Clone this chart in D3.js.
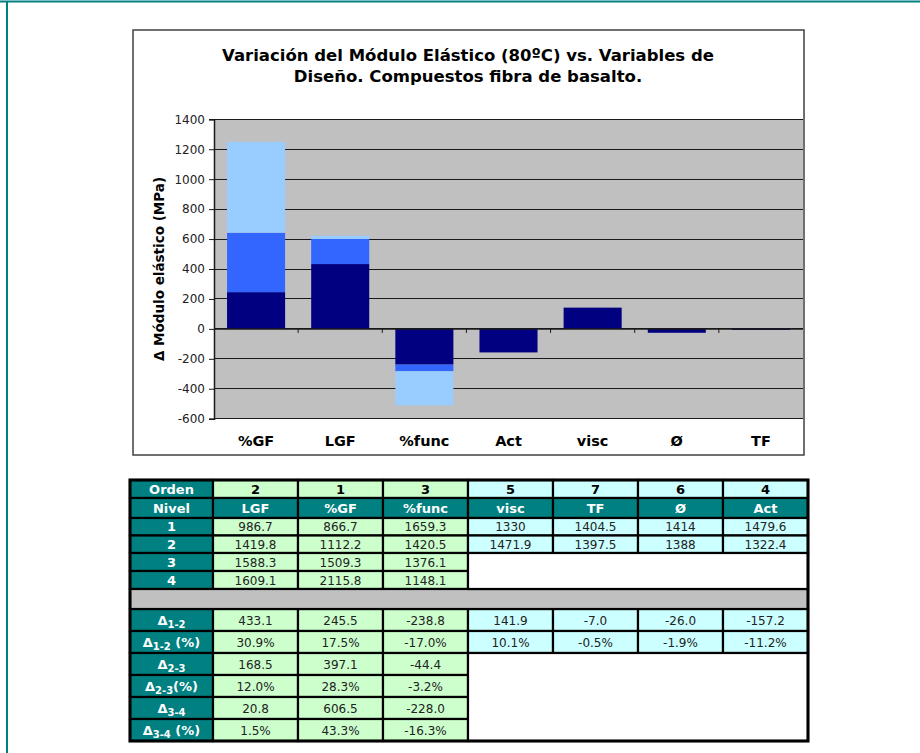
<!DOCTYPE html>
<html><head><meta charset="utf-8">
<script src="https://cdn.jsdelivr.net/npm/d3@7"></script>
<style>body{margin:0;background:#fff;}svg{display:block;font-family:"DejaVu Sans",Verdana,sans-serif;}</style>
</head><body>
<script>
// ---- Chart data ----
const categories = ["%GF","LGF","%func","Act","visc","Ø","TF"];
const delta12 = [245.5, 433.1, -238.8, -157.2, 141.9, -26.0, -7.0];
const delta23 = [397.1, 168.5, -44.4, 0, 0, 0, 0];
const delta34 = [606.5, 20.8, -228.0, 0, 0, 0, 0];
const yTicks = [-600,-400,-200,0,200,400,600,800,1000,1200,1400];
const titleLines = ["Variación del Módulo Elástico (80ºC) vs. Variables de","Diseño. Compuestos fibra de basalto."];
const yTitle = "Δ Módulo elástico (MPa)";

// ---- Table data ----
const tableCols = ["LGF","%GF","%func","visc","TF","Ø","Act"];
const orden = ["2","1","3","5","7","6","4"];
const nivel1 = ["986.7","866.7","1659.3","1330","1404.5","1414","1479.6"];
const nivel2 = ["1419.8","1112.2","1420.5","1471.9","1397.5","1388","1322.4"];
const nivel3 = ["1588.3","1509.3","1376.1"];
const nivel4 = ["1609.1","2115.8","1148.1"];
const d12 = ["433.1","245.5","-238.8","141.9","-7.0","-26.0","-157.2"];
const d12p = ["30.9%","17.5%","-17.0%","10.1%","-0.5%","-1.9%","-11.2%"];
const d23 = ["168.5","397.1","-44.4"];
const d23p = ["12.0%","28.3%","-3.2%"];
const d34 = ["20.8","606.5","-228.0"];
const d34p = ["1.5%","43.3%","-16.3%"];

const W = 920, H = 753;
const svg = d3.select("body").append("svg").attr("width", W).attr("height", H);

// page frame
svg.append("line").attr("x1",0).attr("x2",W).attr("y1",1.5).attr("y2",1.5).attr("stroke","#008080").attr("stroke-width",2);
svg.append("line").attr("x1",7).attr("x2",7).attr("y1",1).attr("y2",H).attr("stroke","#008080").attr("stroke-width",2);

// chart box
svg.append("rect").attr("x",133).attr("y",30).attr("width",671).attr("height",425)
  .attr("fill","#fff").attr("stroke","#404040").attr("stroke-width",1.5);

const plot = {x0:214, x1:803, y0:119.3, y1:418.7};
const x = d3.scaleBand().domain(categories).range([plot.x0, plot.x1]).paddingInner(0.31).paddingOuter(0.155);
const y = d3.scaleLinear().domain([-600,1400]).range([plot.y1, plot.y0]);

// plot background
svg.append("rect").attr("x",plot.x0).attr("y",plot.y0).attr("width",plot.x1-plot.x0).attr("height",plot.y1-plot.y0).attr("fill","#C0C0C0");

// gridlines
svg.append("g").selectAll("line").data(yTicks).join("line")
  .attr("x1",plot.x0).attr("x2",plot.x1).attr("y1",d=>y(d)).attr("y2",d=>y(d))
  .attr("stroke","#1a1a1a").attr("stroke-width",1).attr("shape-rendering","crispEdges");

// stacked bars
const rows = categories.map((c,i)=>({cat:c, a:delta12[i], b:delta23[i], c:delta34[i]}));
const stack = d3.stack().keys(["a","b","c"]).offset(d3.stackOffsetDiverging)(rows);
const colors = {a:"#000080", b:"#3366FF", c:"#99CCFF"};
svg.append("g").selectAll("g").data(stack).join("g").attr("fill",s=>colors[s.key])
  .selectAll("rect").data(s=>s).join("rect")
  .attr("x",d=>x(d.data.cat)).attr("width",x.bandwidth())
  .attr("y",d=>y(Math.max(d[0],d[1]))).attr("height",d=>Math.abs(y(d[0])-y(d[1])));

// y axis
const yAxis = d3.axisLeft(y).tickValues(yTicks).tickSize(5).tickPadding(4).tickFormat(d=>String(d));
const gy = svg.append("g").attr("transform",`translate(${plot.x0},0)`).call(yAxis);
gy.select(".domain").attr("stroke","#1a1a1a").attr("stroke-width",1.5);
gy.selectAll(".tick line").attr("stroke","#1a1a1a");
gy.selectAll(".tick text").attr("font-size",12).attr("fill","#222").attr("font-family","DejaVu Sans");

// x axis at zero
svg.append("line").attr("x1",plot.x0).attr("x2",plot.x1).attr("y1",y(0)).attr("y2",y(0)).attr("stroke","#1a1a1a").attr("stroke-width",1.5);
const step = x.step();
svg.append("g").selectAll("line").data(d3.range(1,categories.length)).join("line")
  .attr("x1",k=>plot.x0+k*step).attr("x2",k=>plot.x0+k*step)
  .attr("y1",y(0)).attr("y2",y(0)+4).attr("stroke","#1a1a1a").attr("stroke-width",1);

// category labels
svg.append("g").selectAll("text").data(categories).join("text")
  .attr("x",d=>x(d)+x.bandwidth()/2).attr("y",446).attr("text-anchor","middle")
  .attr("font-size",14.5).attr("font-weight","bold").attr("fill","#000").text(d=>d);

// title
svg.append("g").selectAll("text").data(titleLines).join("text")
  .attr("x",468).attr("y",(d,i)=>61+i*21).attr("text-anchor","middle")
  .attr("font-size",16.5).attr("font-weight","bold").attr("fill","#000").text(d=>d);

// y title
svg.append("text").attr("transform",`translate(164,${(plot.y0+plot.y1)/2}) rotate(-90)`)
  .attr("text-anchor","middle").attr("font-size",13.5).attr("font-weight","bold").text(yTitle);

// ---- Table ----
const colX = [130,213,298,383,468,553,638,723,808];
const rowY = [480,498,518,535.5,553,571,589,609,631,653,675,697,719,741];
const teal = "#008080", green = "#CCFFCC", cyan = "#CCFFFF";
const tbl = svg.append("g");
const cells = [];
function cell(r,c,txt,fill,color,bold,label){
  cells.push({x:colX[c], w:colX[c+1]-colX[c], y:rowY[r], h:rowY[r+1]-rowY[r], txt, fill, color, bold, label});
}
const colFill = i => i<3 ? green : cyan;
cell(0,0,"Orden",teal,"#fff",true);
orden.forEach((v,i)=>cell(0,i+1,v,colFill(i),"#000",true));
cell(1,0,"Nivel",teal,"#fff",true);
tableCols.forEach((v,i)=>cell(1,i+1,v,teal,"#fff",true));
[nivel1,nivel2,nivel3,nivel4].forEach((arr,r)=>{
  cell(r+2,0,String(r+1),teal,"#fff",true);
  arr.forEach((v,i)=>cell(r+2,i+1,v,colFill(i),"#222",false));
});
const deltaRows = [[d12,"1-2",""],[d12p,"1-2"," (%)"],[d23,"2-3",""],[d23p,"2-3","(%)"],[d34,"3-4",""],[d34p,"3-4"," (%)"]];
deltaRows.forEach(([arr,sub,suf],r)=>{
  cell(r+7,0,null,teal,"#fff",true,{sub,suf});
  arr.forEach((v,i)=>cell(r+7,i+1,v,colFill(i),"#222",false));
});
tbl.selectAll("rect.c").data(cells).join("rect").attr("class","c")
  .attr("x",d=>d.x).attr("y",d=>d.y).attr("width",d=>d.w).attr("height",d=>d.h)
  .attr("fill",d=>d.fill).attr("stroke","#000").attr("stroke-width",2.2);
const blanks = [{x:colX[0],y:rowY[6],w:colX[8]-colX[0],h:rowY[7]-rowY[6],f:"#C0C0C0"},
  {x:colX[4],y:rowY[4],w:colX[8]-colX[4],h:rowY[6]-rowY[4],f:"#fff"},
  {x:colX[4],y:rowY[9],w:colX[8]-colX[4],h:rowY[13]-rowY[9],f:"#fff"}];
tbl.selectAll("rect.b").data(blanks).join("rect").attr("class","b")
  .attr("x",d=>d.x).attr("y",d=>d.y).attr("width",d=>d.w).attr("height",d=>d.h)
  .attr("fill",d=>d.f).attr("stroke","#000").attr("stroke-width",2.2);
tbl.append("rect").attr("x",colX[0]).attr("y",rowY[0]).attr("width",colX[8]-colX[0]).attr("height",rowY[13]-rowY[0])
  .attr("fill","none").attr("stroke","#000").attr("stroke-width",3);

const txt = tbl.selectAll("text").data(cells).join("text")
  .attr("x",d=>d.x+d.w/2).attr("y",d=>d.y+d.h/2+4.5).attr("text-anchor","middle")
  .attr("font-size",d=>d.bold?13:12).attr("font-weight",d=>d.bold?"bold":"normal").attr("fill",d=>d.color);
txt.each(function(d){
  const t = d3.select(this);
  if (d.label){
    t.append("tspan").text("Δ");
    t.append("tspan").attr("font-size",10).attr("dy",3).text(d.label.sub);
    if (d.label.suf) t.append("tspan").attr("dy",-3).text(d.label.suf);
  } else t.text(d.txt);
});
</script>
</body></html>
